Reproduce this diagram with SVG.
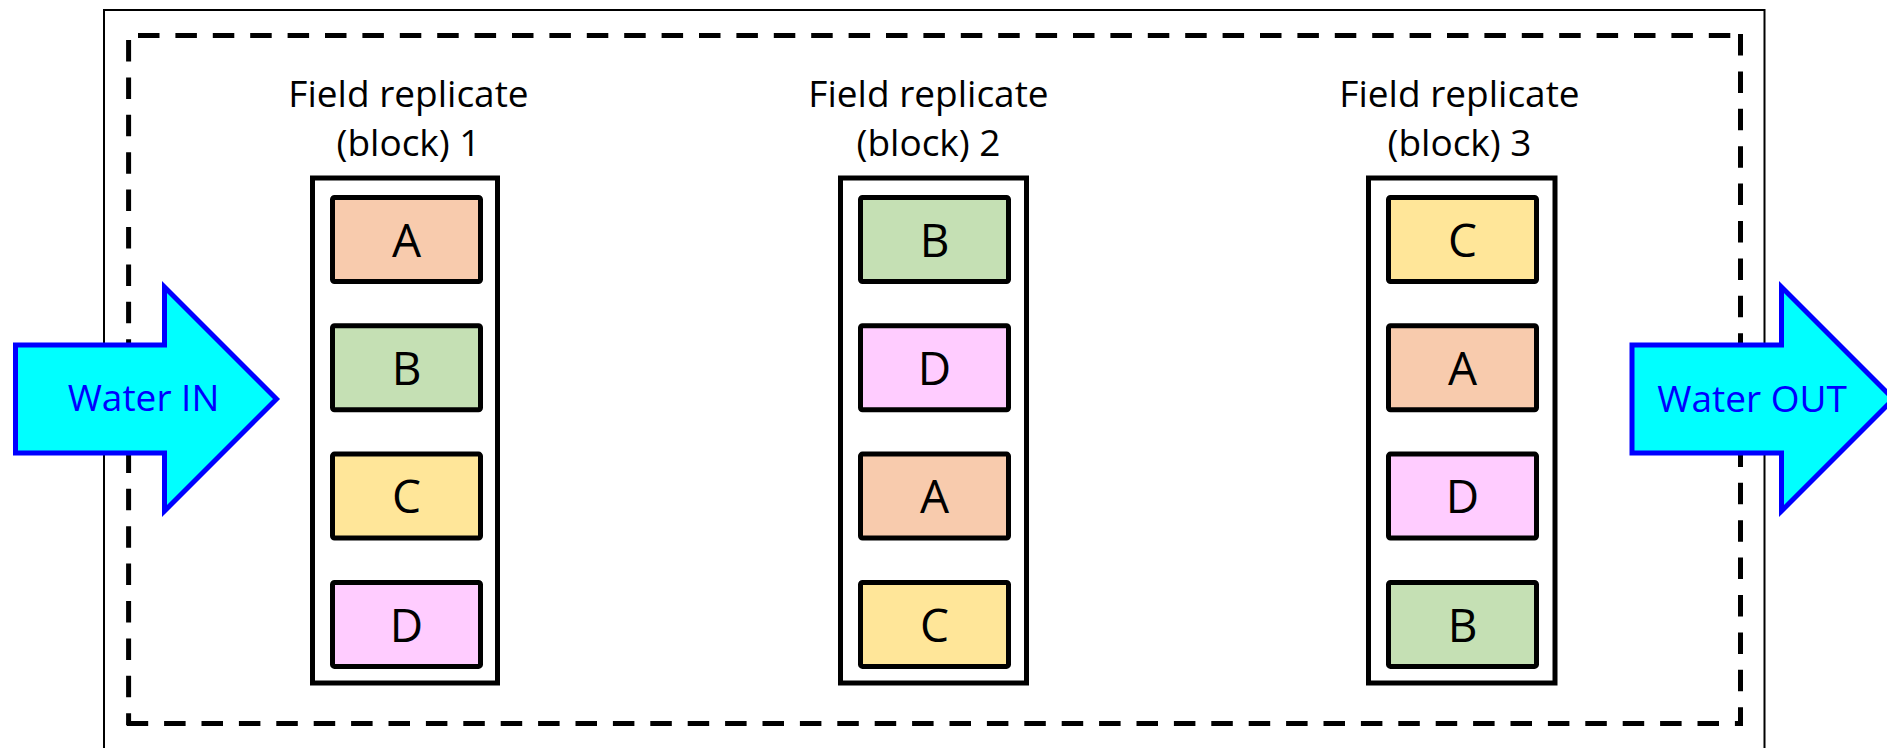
<svg xmlns="http://www.w3.org/2000/svg" width="1887" height="748" viewBox="0 0 1887 748">
<style>
  text { font-family: "Open Sans", "Noto Sans", "Liberation Sans", sans-serif; text-anchor: middle; }
  .title { font-size: 37px; fill: #000000; }
  .frame { fill: #ffffff; stroke: #000000; stroke-width: 5; }
  .box { stroke: #000000; stroke-width: 5; }
  .lbl { font-size: 46px; fill: #000000; }
  .A { fill: #F8CBAD; }
  .B { fill: #C5E0B4; }
  .C { fill: #FFE699; }
  .D { fill: #FFCCFF; }
  .dash { fill: none; stroke: #000000; stroke-width: 5; stroke-dasharray: 21.5 15.9; }
  .arrow { fill: #00FFFF; stroke: #0000FF; stroke-width: 5; stroke-linejoin: miter; }
  .wtext { font-size: 37px; fill: #0000FF; }
</style>
<rect x="0" y="0" width="1887" height="748" fill="#ffffff"/>
<g id="outer">
  <rect x="104" y="10" width="1660.5" height="770" fill="none" stroke="#000000" stroke-width="2"/>
</g>
<g id="dashed-boundary">
  <line class="dash" x1="138" y1="35.5" x2="1742" y2="35.5"/>
  <line class="dash" x1="1740.5" y1="34" x2="1740.5" y2="725"/>
  <line class="dash" x1="126.7" y1="723.4" x2="1743" y2="723.4"/>
  <line class="dash" x1="128.6" y1="40" x2="128.6" y2="725"/>
</g>
<g id="block1">
  <text class="title" x="408.5" y="107">Field replicate</text>
  <text class="title" x="408.5" y="156">(block) 1</text>
  <rect class="frame" x="312.5" y="178" width="185" height="505"/>
  <rect class="box A" x="332.5" y="197.5" width="148" height="84" rx="2"/>
  <text class="lbl" x="406.5" y="256.5">A</text>
  <rect class="box B" x="332.5" y="325.8" width="148" height="84" rx="2"/>
  <text class="lbl" x="406.5" y="384.8">B</text>
  <rect class="box C" x="332.5" y="454.1" width="148" height="84" rx="2"/>
  <text class="lbl" x="406.5" y="513.1">C</text>
  <rect class="box D" x="332.5" y="582.4" width="148" height="84" rx="2"/>
  <text class="lbl" x="406.5" y="641.5">D</text>
</g>
<g id="block2">
  <text class="title" x="928.5" y="107">Field replicate</text>
  <text class="title" x="928.5" y="156">(block) 2</text>
  <rect class="frame" x="840.5" y="178" width="186" height="505"/>
  <rect class="box B" x="860.5" y="197.5" width="148" height="84" rx="2"/>
  <text class="lbl" x="934.5" y="256.5">B</text>
  <rect class="box D" x="860.5" y="325.8" width="148" height="84" rx="2"/>
  <text class="lbl" x="934.5" y="384.8">D</text>
  <rect class="box A" x="860.5" y="454.1" width="148" height="84" rx="2"/>
  <text class="lbl" x="934.5" y="513.1">A</text>
  <rect class="box C" x="860.5" y="582.4" width="148" height="84" rx="2"/>
  <text class="lbl" x="934.5" y="641.5">C</text>
</g>
<g id="block3">
  <text class="title" x="1459.5" y="107">Field replicate</text>
  <text class="title" x="1459.5" y="156">(block) 3</text>
  <rect class="frame" x="1368.5" y="178" width="186.5" height="505"/>
  <rect class="box C" x="1388.5" y="197.5" width="148" height="84" rx="2"/>
  <text class="lbl" x="1462.5" y="256.5">C</text>
  <rect class="box A" x="1388.5" y="325.8" width="148" height="84" rx="2"/>
  <text class="lbl" x="1462.5" y="384.8">A</text>
  <rect class="box D" x="1388.5" y="454.1" width="148" height="84" rx="2"/>
  <text class="lbl" x="1462.5" y="513.1">D</text>
  <rect class="box B" x="1388.5" y="582.4" width="148" height="84" rx="2"/>
  <text class="lbl" x="1462.5" y="641.5">B</text>
</g>
<g id="connectors">
  <g id="water-in">
    <polygon class="arrow" points="15.5,345 164.5,345 164.5,287 276.5,399 164.5,511 164.5,453 15.5,453"/>
    <text class="wtext" x="143.5" y="411">Water IN</text>
  </g>
  <g id="water-out">
    <polygon class="arrow" points="1632,345 1781.5,345 1781.5,287 1893.5,399 1781.5,511 1781.5,453 1632,453"/>
    <text class="wtext" x="1752" y="412">Water OUT</text>
  </g>
</g>
</svg>
